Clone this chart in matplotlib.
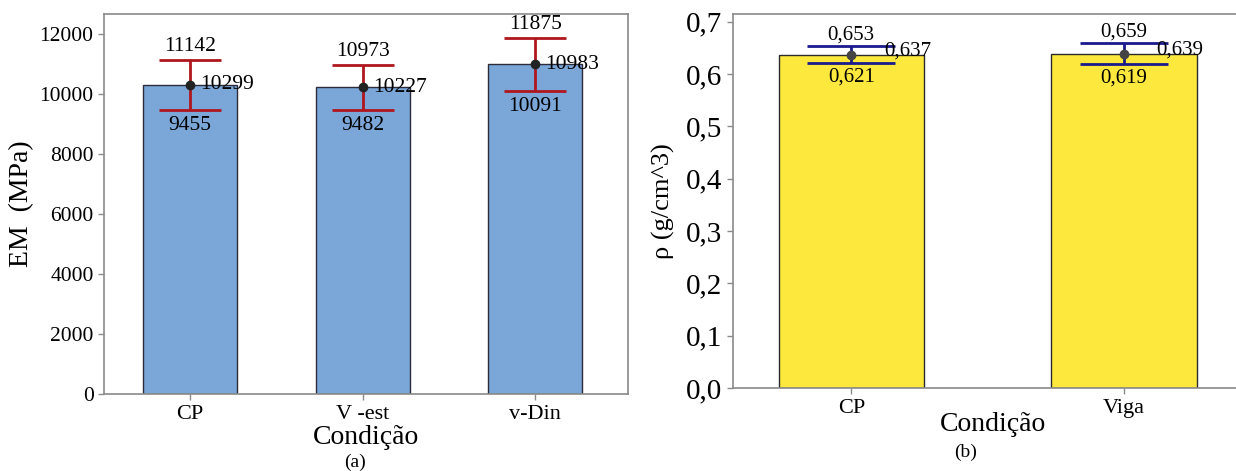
import matplotlib.pyplot as plt

plt.rcParams['font.family'] = ['Liberation Serif', 'DejaVu Serif']

# (a) modulo de elasticidade
cond_a = ["CP", "V -est", "v-Din"]
em_mean = [10299, 10227, 10983]
em_low = [9455, 9482, 10091]
em_high = [11142, 10973, 11875]

# (b) densidade
cond_b = ["CP", "Viga"]
rho_mean = [0.637, 0.639]
rho_low = [0.621, 0.619]
rho_high = [0.653, 0.659]

fig = plt.figure(figsize=(12.36, 4.71), dpi=100)
ax1 = fig.add_axes([0.0841, 0.163, 0.4243, 0.8075])
ax2 = fig.add_axes([0.593, 0.176, 0.42, 0.7943])

spine_col = "#8a8a8a"


def style_axes(ax):
    for s in ax.spines.values():
        s.set_color(spine_col)
        s.set_linewidth(1.2)
    ax.tick_params(colors=spine_col, length=4, width=1)


# ---- panel (a)
x_a = list(range(len(cond_a)))
ax1.bar(x_a, em_mean, width=0.545, color="#7ba6d8", edgecolor="#2b2b3a", linewidth=1)
for i in x_a:
    ax1.errorbar(i, em_mean[i],
                 yerr=[[em_mean[i] - em_low[i]], [em_high[i] - em_mean[i]]],
                 fmt="o", color="#222222", ms=6, ecolor="#b0161e",
                 elinewidth=2, capsize=22, capthick=2)
    ax1.text(i, em_high[i] + 120, f"{em_high[i]}", ha="center", va="bottom", fontsize=15.5)
    ax1.text(i, em_low[i] - 200, f"{em_low[i]}", ha="center", va="top", fontsize=15.5)
    ax1.text(i + 0.06, em_mean[i], f"{em_mean[i]}", ha="left", va="center", fontsize=15.5)
ax1.set_xlim(-0.5, 2.54)
ax1.set_ylim(0, 12667)
ax1.set_yticks(range(0, 12001, 2000))
ax1.set_xticks(x_a)
ax1.set_xticklabels(cond_a)
style_axes(ax1)
for lab in ax1.get_xticklabels() + ax1.get_yticklabels():
    lab.set_color("black")
    lab.set_fontsize(15.5)
for lab in ax1.get_xticklabels():
    lab.set_fontsize(16)
ax1.set_ylabel("EM  (MPa)", fontsize=20, labelpad=4)
ax1.set_xlabel("Condição", fontsize=20, labelpad=1)
fig.text(0.2872, 0.018, "(a)", ha="center", va="center", fontsize=14)

# ---- panel (b)
x_b = list(range(len(cond_b)))
ax2.bar(x_b, rho_mean, width=0.533, color="#fde93e", edgecolor="#2b2b2b", linewidth=1)
for i in x_b:
    ax2.errorbar(i, rho_mean[i],
                 yerr=[[rho_mean[i] - rho_low[i]], [rho_high[i] - rho_mean[i]]],
                 fmt="o", color="#444444", ms=6, ecolor="#1a1a8c",
                 elinewidth=2, capsize=32, capthick=2)
    ax2.text(i, rho_high[i] + 0.003, f"{rho_high[i]:.3f}".replace(".", ","),
             ha="center", va="bottom", fontsize=15)
    ax2.text(i, rho_low[i] - 0.009, f"{rho_low[i]:.3f}".replace(".", ","),
             ha="center", va="top", fontsize=15)
    ax2.text(i + 0.12, rho_mean[i] + 0.008, f"{rho_mean[i]:.3f}".replace(".", ","),
             ha="left", va="center", fontsize=15)
ax2.set_xlim(-0.434, 1.47)
ax2.set_ylim(0, 0.715)
yt = [0.0, 0.1, 0.2, 0.3, 0.4, 0.5, 0.6, 0.7]
ax2.set_yticks(yt)
ax2.set_yticklabels([f"{v:.1f}".replace(".", ",") for v in yt])
ax2.set_xticks(x_b)
ax2.set_xticklabels(cond_b)
style_axes(ax2)
for lab in ax2.get_xticklabels():
    lab.set_color("black")
    lab.set_fontsize(16)
for lab in ax2.get_yticklabels():
    lab.set_color("black")
    lab.set_fontsize(21)
ax2.set_ylabel("ρ (g/cm^3)", fontsize=19, labelpad=8)
ax2.set_xlabel("Condição", fontsize=20, labelpad=-4)
fig.text(0.7815, 0.04, "(b)", ha="center", va="center", fontsize=14)

fig.savefig("out.png", dpi=100)
